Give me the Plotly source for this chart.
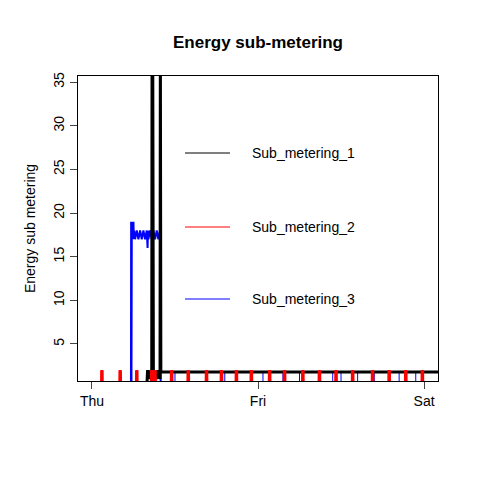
import plotly.graph_objects as go

# x in days since Thursday 00:00
tick_vals = [0, 1, 2]
tick_text = ["Thu", "Fri", "Sat"]

sub1_x = [-0.1, 0.33, 0.335, 0.345, 0.355, 0.36, 0.362, 0.366, 0.37, 0.38, 0.39, 0.4, 0.41, 0.412, 0.415, 2.1]
sub1_y = [0, 0, 2, 1, 2, 1, 40, 40, 1, 2, 1, 2, 1, 40, 1.8, 1.8]

red_spikes = [0.06, 0.17, 0.27, 0.36, 0.38, 0.48, 0.58, 0.69, 0.78, 0.87, 0.96, 1.07, 1.16,
              1.27, 1.37, 1.47, 1.57, 1.69, 1.79, 1.89, 1.99]
red_heights = [2, 2, 2, 2, 2, 2, 2, 2, 2, 2, 2, 2, 2, 2, 2, 2, 2, 2, 2, 2, 2]

sub3_x = [-0.1, 0.235, 0.236, 0.238, 0.24, 0.242, 0.25, 0.252, 0.254, 0.26, 0.27, 0.28, 0.29, 0.3, 0.31,
          0.32, 0.33, 0.335, 0.337, 0.34, 0.35, 0.36, 0.37, 0.38, 0.39, 0.4, 0.41, 0.413, 0.414, 2.1]
sub3_y = [0, 0, 19, 0, 19, 17, 19, 17, 18, 17, 18, 17, 18, 17, 18, 17, 18, 16, 18, 17, 18, 17, 18, 17,
          18, 17, 18, 17, 0, 0]
blue_ticks = [0.5, 0.58, 0.8, 1.03, 1.15, 1.25, 1.45, 1.5, 1.6, 1.7, 1.85, 1.95]
blue_tick_height = 1.8

tx, ty = [], []
for s in blue_ticks:
    tx += [s, s, None]
    ty += [0, blue_tick_height, None]

red_x, red_y = [-0.1], [0]
for s, h in zip(red_spikes, red_heights):
    red_x += [s - 0.004, s - 0.003, s, s + 0.003, s + 0.004]
    red_y += [0, h, h - 1, h, 0]
red_x.append(2.1); red_y.append(0)

fig = go.Figure()
fig.add_trace(go.Scatter(x=sub3_x, y=sub3_y, mode="lines", line=dict(color="blue", width=2)))
fig.add_trace(go.Scatter(x=tx, y=ty, mode="lines", line=dict(color="blue", width=1)))
fig.add_trace(go.Scatter(x=sub1_x, y=sub1_y, mode="lines", line=dict(color="black", width=3)))
fig.add_trace(go.Scatter(x=red_x, y=red_y, mode="lines", line=dict(color="red", width=2.5)))

legend = [("Sub_metering_1", "black", 153), ("Sub_metering_2", "red", 227), ("Sub_metering_3", "blue", 299)]
for name, col, py in legend:
    yp = 1 - (py - 76) / 305
    fig.add_shape(type="line", xref="paper", yref="paper", x0=(185 - 78) / 360, x1=(230 - 78) / 360,
                  y0=yp, y1=yp, line=dict(color=col, width=1))
    fig.add_annotation(xref="paper", yref="paper", x=(250 - 78) / 360, y=yp, text=name, showarrow=False,
                       xanchor="left", yanchor="middle", font=dict(size=14, color="black"))

fig.update_layout(
    width=480, height=480, showlegend=False, plot_bgcolor="white", paper_bgcolor="white",
    margin=dict(l=70, r=50, t=68, b=107),
    font=dict(family="Liberation Sans, Arial", color="black", size=14),
    title=dict(text="<b>Energy sub-metering</b>", x=(258 - 8) / 480, xanchor="center", y=1 - 34 / 480,
               yanchor="middle", font=dict(size=17)),
    xaxis=dict(range=[-0.084, 2.084], tickvals=tick_vals, ticktext=tick_text, ticks="outside", ticklen=7,
               showline=True, mirror=True, linecolor="black", showgrid=False, zeroline=False),
    yaxis=dict(range=[0.76, 35.7], tickvals=[5, 10, 15, 20, 25, 30, 35], ticks="outside", ticklen=7,
               tickangle=-90, showline=True, mirror=True, linecolor="black", showgrid=False, zeroline=False,
               title=dict(text="Energy sub metering", standoff=12, font=dict(size=14))),
)
fig.write_html("out.html")
